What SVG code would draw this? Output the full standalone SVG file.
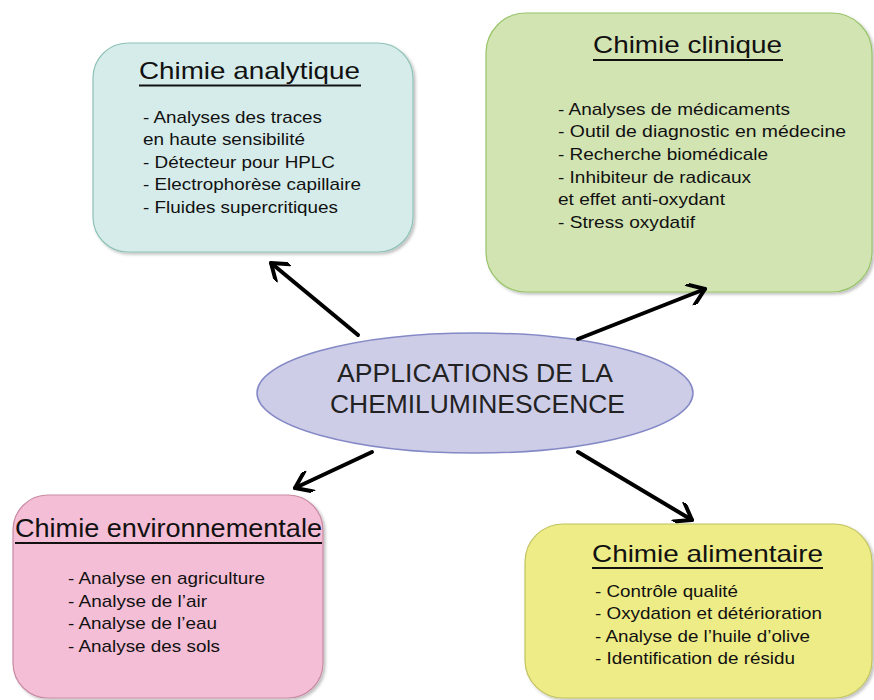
<svg xmlns="http://www.w3.org/2000/svg" width="874" height="700" viewBox="0 0 874 700">
  <defs>
    <filter id="sh" x="-5%" y="-5%" width="112%" height="112%">
      <feDropShadow dx="2" dy="2" stdDeviation="1.5" flood-color="#000" flood-opacity="0.25"/>
    </filter>
    <marker id="arr" viewBox="0 0 20 20" refX="18" refY="10" markerWidth="22" markerHeight="22" markerUnits="userSpaceOnUse" orient="auto">
      <path d="M4,0 L18,10 L4,20" fill="none" stroke="#000" stroke-width="3.6" stroke-linecap="round" stroke-linejoin="round"/>
    </marker>
    <style>
      text { font-family: "Liberation Sans", Arial, sans-serif; fill: #111; }
      .t { font-size: 24px; }
      .b { font-size: 17px; }
      .c { font-size: 25.5px; fill: #222; }
      .u { stroke: #111; stroke-width: 1.8; }
      .con { stroke: #000; stroke-width: 4; fill: none; marker-end: url(#arr); stroke-linecap: round; }
    </style>
  </defs>
  <rect width="874" height="700" fill="#fff"/>

  <g id="analytique">
    <rect x="93" y="43" width="320" height="209" rx="35" fill="#d6ecea" stroke="#8ec2b6" stroke-width="1.2" filter="url(#sh)"/>
    <text class="t" x="139" y="79" textLength="221" lengthAdjust="spacingAndGlyphs">Chimie analytique</text>
    <line class="u" x1="139" y1="85.5" x2="361" y2="85.5"/>
    <text class="b" x="143" y="123" textLength="179" lengthAdjust="spacingAndGlyphs">- Analyses des traces</text>
    <text class="b" x="143" y="145" textLength="162" lengthAdjust="spacingAndGlyphs">en haute sensibilité</text>
    <text class="b" x="143" y="168" textLength="192" lengthAdjust="spacingAndGlyphs">- Détecteur pour HPLC</text>
    <text class="b" x="143" y="190" textLength="218" lengthAdjust="spacingAndGlyphs">- Electrophorèse capillaire</text>
    <text class="b" x="143" y="213" textLength="195" lengthAdjust="spacingAndGlyphs">- Fluides supercritiques</text>
  </g>

  <g id="clinique">
    <rect x="486" y="13" width="386" height="279" rx="40" fill="#d3e4b3" stroke="#98c46a" stroke-width="1.2" filter="url(#sh)"/>
    <text class="t" x="593" y="53" textLength="189" lengthAdjust="spacingAndGlyphs">Chimie clinique</text>
    <line class="u" x1="593" y1="60" x2="783" y2="60"/>
    <text class="b" x="558" y="115" textLength="232" lengthAdjust="spacingAndGlyphs">- Analyses de médicaments</text>
    <text class="b" x="558" y="137" textLength="288" lengthAdjust="spacingAndGlyphs">- Outil de diagnostic en médecine</text>
    <text class="b" x="558" y="160" textLength="210" lengthAdjust="spacingAndGlyphs">- Recherche biomédicale</text>
    <text class="b" x="558" y="183" textLength="193" lengthAdjust="spacingAndGlyphs">- Inhibiteur de radicaux</text>
    <text class="b" x="558" y="205" textLength="167" lengthAdjust="spacingAndGlyphs">et effet anti-oxydant</text>
    <text class="b" x="558" y="228" textLength="137" lengthAdjust="spacingAndGlyphs">- Stress oxydatif</text>
  </g>

  <g id="environnementale">
    <rect x="13" y="495" width="310" height="203" rx="35" fill="#f4bed6" stroke="#c98ba3" stroke-width="1.2" filter="url(#sh)"/>
    <text class="t" x="15" y="537" textLength="307" lengthAdjust="spacingAndGlyphs" style="font-size:25px">Chimie environnementale</text>
    <line class="u" x1="15" y1="543" x2="322" y2="543"/>
    <text class="b" x="68" y="584" textLength="197" lengthAdjust="spacingAndGlyphs">- Analyse en agriculture</text>
    <text class="b" x="68" y="607" textLength="139" lengthAdjust="spacingAndGlyphs">- Analyse de l’air</text>
    <text class="b" x="68" y="629" textLength="149" lengthAdjust="spacingAndGlyphs">- Analyse de l’eau</text>
    <text class="b" x="68" y="652" textLength="152" lengthAdjust="spacingAndGlyphs">- Analyse des sols</text>
  </g>

  <g id="alimentaire">
    <rect x="525" y="524" width="347" height="174" rx="38" fill="#eeec86" stroke="#c2c460" stroke-width="1.2" filter="url(#sh)"/>
    <text class="t" x="592" y="562" textLength="231" lengthAdjust="spacingAndGlyphs">Chimie alimentaire</text>
    <line class="u" x1="592" y1="568" x2="823" y2="568"/>
    <text class="b" x="595" y="597" textLength="143" lengthAdjust="spacingAndGlyphs">- Contrôle qualité</text>
    <text class="b" x="595" y="619" textLength="227" lengthAdjust="spacingAndGlyphs">- Oxydation et détérioration</text>
    <text class="b" x="595" y="642" textLength="215" lengthAdjust="spacingAndGlyphs">- Analyse de l’huile d’olive</text>
    <text class="b" x="595" y="664" textLength="200" lengthAdjust="spacingAndGlyphs">- Identification de résidu</text>
  </g>

  <g id="centre">
    <ellipse cx="475" cy="393" rx="218" ry="60" fill="#cecde8" stroke="#8489c6" stroke-width="1.5"/>
    <text class="c" x="337" y="382" textLength="276" lengthAdjust="spacingAndGlyphs">APPLICATIONS DE LA</text>
    <text class="c" x="330" y="413" textLength="295" lengthAdjust="spacingAndGlyphs">CHEMILUMINESCENCE</text>
  </g>

  <g id="connectors">
    <line class="con" x1="358" y1="335" x2="271" y2="263"/>
    <line class="con" x1="578" y1="339" x2="705" y2="289"/>
    <line class="con" x1="372" y1="452" x2="295" y2="488"/>
    <line class="con" x1="578" y1="452" x2="692" y2="520"/>
  </g>
</svg>
